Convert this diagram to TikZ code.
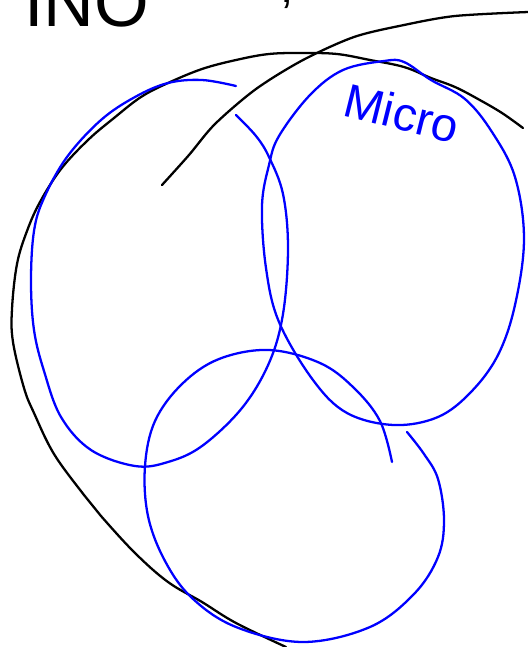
\documentclass[tikz,border=0pt]{standalone}
\usepackage{xcolor}
\usepackage{fontspec}
\setsansfont{Liberation Sans}
\usetikzlibrary{positioning}
\definecolor{PenBlue}{RGB}{0,0,255}
\tikzset{
  penblack/.style={draw=black, line width=1.3pt, line cap=round, line join=round},
  penblue/.style={draw=PenBlue, line width=1.3pt, line cap=round, line join=round},
  scribble/.style={font=\sffamily\fontsize{27}{30}\selectfont, inner sep=0pt},
}
\begin{document}
\begin{tikzpicture}[x=0.02cm, y=-0.02cm]
  \useasboundingbox (0,0) rectangle (528,647);
  % black strokes
  \draw[penblack] plot[smooth, tension=0.6] coordinates {(523,128) (502,113) (478,99) (455,87) (431,78)
    (404,67) (370,60) (337,54) (303,53) (269,54) (236,60) (202,69) (168,83) (141,97) (114,118)
    (88,140) (61,169) (40,202) (27,231) (17,264) (12,309) (13,342) (24,388) (34,413) (54,454)
    (84,495) (101,516) (135,553) (168,582) (202,602) (236,623) (286,647)};
  \draw[penblack] plot[smooth, tension=0.5] coordinates {(162,185) (189,155) (215,124) (256,89)
    (303,60) (354,37) (404,25) (455,16) (528,12)};
  % blue loops
  \draw[penblue] plot[smooth, tension=0.6] coordinates {(236,86) (202,80) (168,83) (135,97) (101,120)
    (67,157) (44,198) (34,231) (31,281) (34,330) (44,371) (61,417) (91,450) (135,466) (168,462)
    (202,446) (242,408) (269,363) (283,314) (288,248) (283,194) (269,157) (256,136) (236,115)};
  \draw[penblue] plot[smooth cycle, tension=0.6] coordinates {(384,61) (404,62) (431,80) (465,99)
    (492,132) (515,177) (524,239) (515,305) (498,355) (471,392) (438,417) (394,425) (347,413)
    (313,380) (279,322) (266,268) (262,206) (269,165) (279,136) (310,95) (343,70)};
  \draw[penblue] plot[smooth, tension=0.6] coordinates {(392,462) (380,421) (354,388) (320,363)
    (269,350) (219,359) (182,384) (155,421) (145,466) (148,516) (165,561) (192,598) (236,627)
    (303,642) (370,627) (414,594) (438,557) (444,520) (438,479) (424,454) (407,432)};
  % labels
  \node[scribble, text=PenBlue, rotate=-14] (micro) at (402,113) {Micro};
  \node[scribble, font=\sffamily\fontsize{40}{44}\selectfont, anchor=base west] (title) at (24,26) {INO};
  \node[scribble, anchor=base] (comma) at (287,2) {,};
\end{tikzpicture}
\end{document}
